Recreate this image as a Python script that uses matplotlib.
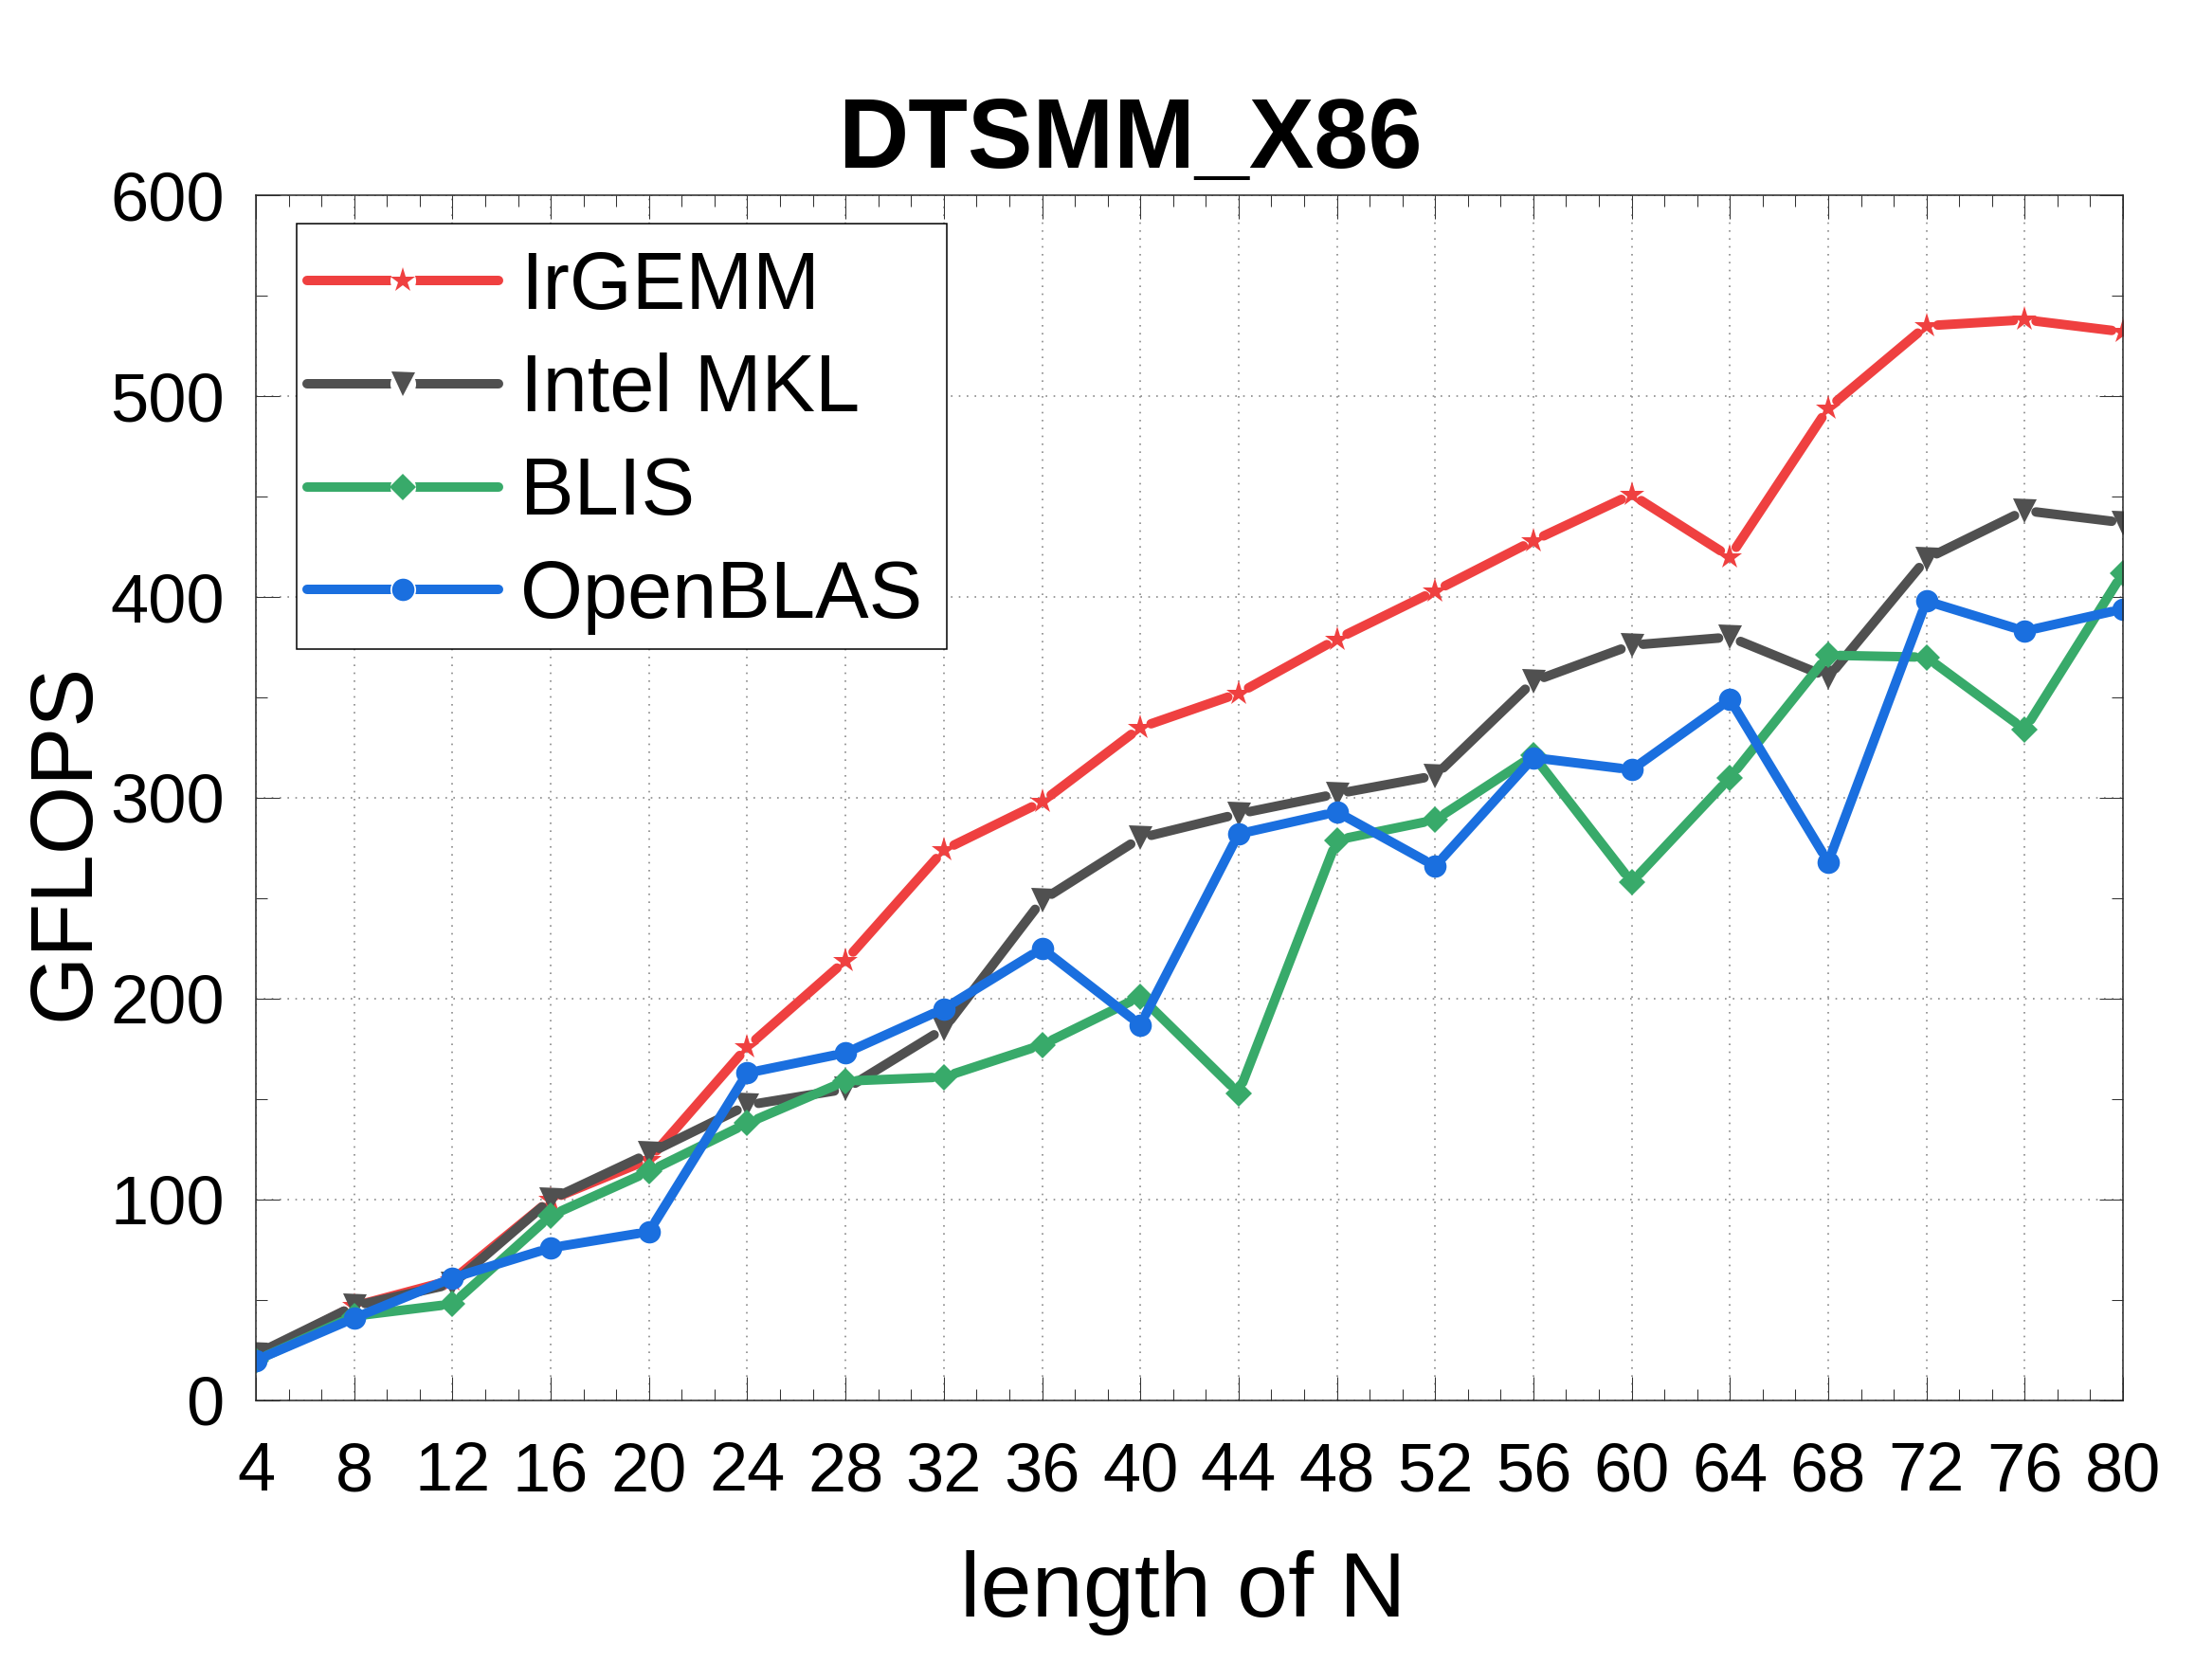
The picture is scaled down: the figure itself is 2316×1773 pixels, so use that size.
import numpy as np
import matplotlib
matplotlib.use('Agg')
import matplotlib.pyplot as plt
from matplotlib.collections import LineCollection
from matplotlib.lines import Line2D
from matplotlib.patches import Rectangle
from matplotlib.legend_handler import HandlerTuple
from matplotlib.ticker import MultipleLocator, AutoMinorLocator

plt.rcParams['font.family'] = ['Liberation Sans', 'DejaVu Sans']

# values
n_len = [4, 8, 12, 16, 20, 24, 28, 32, 36, 40, 44, 48, 52, 56, 60, 64, 68, 72, 76, 80]
irgemm = [22, 47, 60, 100, 120, 176, 219, 274, 298, 335, 352, 379, 403, 428, 451, 420, 494, 535, 538, 532]
mkl = [23, 47, 58, 100, 123, 147, 155, 185, 249, 280, 292, 302, 311, 358, 376, 380, 360, 419, 443, 437]
blis = [20, 42, 48, 92, 114, 138, 159, 161, 177, 201, 153, 279, 289, 321, 258, 310, 371, 370, 334, 412]
openblas = [20, 41, 61, 76, 84, 163, 173, 195, 225, 187, 282, 293, 266, 320, 314, 349, 268, 398, 383, 394]

labels = ['IrGEMM', 'Intel MKL', 'BLIS', 'OpenBLAS']
colors = ['#EF4040', '#505050', '#38AA6A', '#1A6FDF']
markers = ['*', 'v', 'D', 'o']
msizes = [19.5, 18, 14, 17]

LW = 7.2        # line width in pt
GAP_PX = 12     # distance from marker centre to where a segment stops


def gapped_segments(ax, x, y, gap):
    # shorten every segment at both ends so the line stops short of the markers
    tr = ax.transData
    pts = tr.transform(np.column_stack([x, y]))
    segs = []
    for p0, p1 in zip(pts[:-1], pts[1:]):
        d = p1 - p0
        L = np.hypot(*d)
        if L <= 2 * gap:
            continue
        u = d / L
        segs.append(tr.inverted().transform(np.array([p0 + u * gap, p1 - u * gap])))
    return segs


fig = plt.figure(figsize=(23.16, 17.73), dpi=100)
ax = fig.add_axes([0.1166, 0.1664, 0.8506, 0.7174])
ax.set_xlim(4, 80)
ax.set_ylim(0, 600)

handles = []
for lab, ys, c, m, ms in zip(labels, [irgemm, mkl, blis, openblas], colors, markers, msizes):
    lc = LineCollection(gapped_segments(ax, n_len, ys, GAP_PX), colors=c,
                        linewidths=LW, capstyle='round')
    ax.add_collection(lc)
    ax.plot(n_len, ys, ls='none', marker=m, ms=ms, color=c, mec=c, mew=0)

    # legend handle: full line, white halo, marker on top
    h_line = Line2D([], [], color=c, lw=LW, solid_capstyle='round')
    h_halo = Line2D([], [], ls='none', marker='o', ms=19.5, color='white', mec='white', mew=0)
    h_mark = Line2D([], [], ls='none', marker=m, ms=ms, color=c, mew=0)
    handles.append((h_line, h_halo, h_mark))

# axes styling
ax.xaxis.set_major_locator(MultipleLocator(4))
ax.xaxis.set_minor_locator(AutoMinorLocator(3))
ax.yaxis.set_major_locator(MultipleLocator(100))
ax.yaxis.set_minor_locator(MultipleLocator(50))
ax.grid(True, which='major', color='#8a8a8a', lw=1.2, ls=(0, (1, 4)))
ax.set_axisbelow(True)
ax.tick_params(which='both', direction='in', top=True, right=True,
               color='#333333', width=0.75, labelsize=52)
ax.tick_params(which='major', length=18)
ax.tick_params(which='minor', length=8.6)
ax.tick_params(axis='x', pad=31)
ax.tick_params(axis='y', pad=24)
for sp in ax.spines.values():
    sp.set_linewidth(1.1)
    sp.set_color('#262626')

# legend frame drawn separately so the padding can differ in x and y
frame = Rectangle((0.0218, 0.6234), 0.3483, 0.3530, transform=ax.transAxes,
                  facecolor='white', edgecolor='black', lw=1.1, zorder=4.9)
ax.add_patch(frame)
leg = ax.legend(handles, labels, handler_map={tuple: HandlerTuple(ndivide=1, pad=0)},
                loc='upper left', bbox_to_anchor=(0.0137, 0.976), borderaxespad=0,
                fontsize=61, handlelength=2.38, handletextpad=0.27, labelspacing=0.34,
                borderpad=0.32, frameon=False)
leg.set_zorder(5)

fig.text(0.515, 0.900, 'DTSMM_X86', fontsize=74, fontweight='bold',
         ha='center', va='baseline')
fig.text(0.539, 0.0378, 'length of N', fontsize=70, ha='center', va='baseline')
fig.text(0.030, 0.499, 'GFLOPS', fontsize=67, rotation=90, ha='center', va='center')

fig.savefig('out.png', dpi=100)
